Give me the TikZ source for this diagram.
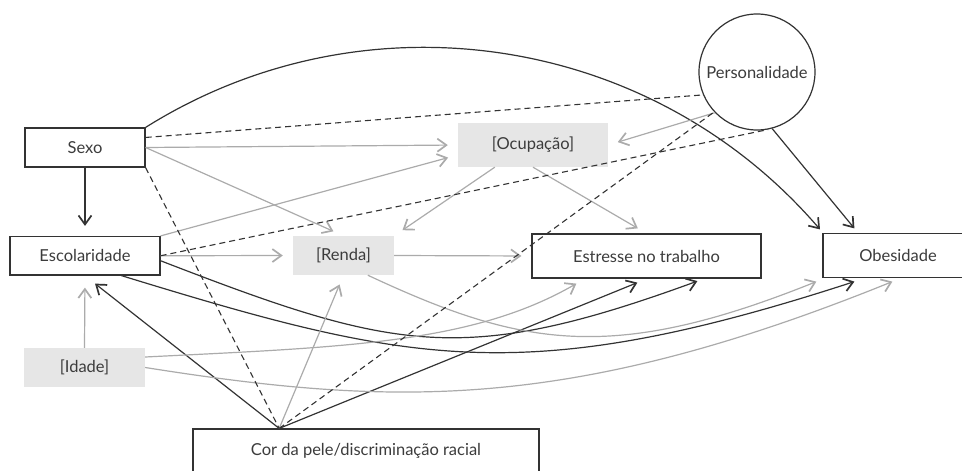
\documentclass[tikz,border=0pt]{standalone}
\usepackage{fontspec}
\setmainfont{Lato}
\usetikzlibrary{arrows.meta,calc}
\definecolor{ink}{HTML}{333333}
\definecolor{txt}{HTML}{3C3C3C}
\definecolor{soft}{HTML}{ABABAB}
\definecolor{shade}{HTML}{E6E6E6}
\begin{document}
\begin{tikzpicture}[x=1pt,y=-1pt,
  lbl/.style={text=txt,font=\fontsize{16.5}{19}\selectfont,inner sep=0pt},
  framed/.style={lbl,draw=ink,line width=1.2pt,fill=white},
  shaded/.style={lbl,fill=shade},
  tip/.style={-{Straight Barb[length=9pt,width=13pt,line width=1.7pt]}},
  dark/.style={draw=ink,line width=1.2pt,tip},
  light/.style={draw=soft,line width=1.2pt,tip},
  dashline/.style={draw=ink,line width=1.1pt,dash pattern=on 6pt off 4pt},
]
\clip (0,0) rectangle (962,471);

% variables
\node[framed,minimum width=120pt,minimum height=39pt] (sexo) at (85,147.5) {Sexo};
\node[framed,minimum width=150pt,minimum height=38.5pt] (esc) at (85,255.75) {Escolaridade};
\node[shaded,minimum width=101pt,minimum height=39pt] (renda) at (343.5,255.5) {[Renda]};
\node[shaded,minimum width=150pt,minimum height=44pt] (ocup) at (533,145) {[Ocupação]};
\node[framed,minimum width=229pt,minimum height=44pt] (estr) at (646.5,256) {Estresse no trabalho};
\node[framed,minimum width=150pt,minimum height=44pt] (obes) at (898,255.5) {Obesidade};
\node[shaded,minimum width=121pt,minimum height=39pt] (idade) at (84.5,367.5) {[Idade]};
\node[framed,circle,minimum size=116pt] (pers) at (757,72) {Personalidade};
\node[framed,minimum width=346pt,minimum height=44pt] (cor) at (366,451) {Cor da pele/discriminação racial};

\coordinate (corTop) at ($(cor.north west)!0.25!(cor.north east)$);

% direct effects
\draw[dark,shorten >=10pt] (sexo.south) -- (esc.north);
\draw[dark] (sexo.north east) arc[start angle=-122.1,end angle=-40.7,radius=523];
\draw[dark] (pers.-75) -- ($(obes.north west)+(32,-4.5)$);
\draw[dark] (corTop) -- ($(esc.south)+(10,8)$);
\draw[dark] (corTop) -- ($(estr.south west)+(106,4)$);
\draw[dark] ($(esc.east)+(0,5)$) .. controls +(233,90) and +(-235,86) .. ($(estr.south west)+(166,2.5)$);
\draw[dark] ($(esc.south west)+(112,0)$) .. controls +(287,88) and +(-332,108) .. ($(obes.south west)+(32,3.5)$);

% mediated paths
\draw[light,shorten >=10pt] (sexo.east) -- (ocup.west);
\draw[light,shorten >=11pt] (sexo.east) -- (renda.north);
\draw[light,shorten >=10pt] (esc.north east) -- ($(ocup.west)!0.45!(ocup.south west)$);
\draw[light,shorten >=10pt] (esc.east) -- (renda.west);
\draw[light,shorten >=10pt] ($(ocup.south west)+(37,0)$) -- (renda.north east);
\draw[light,shorten >=10pt] (ocup.south) -- (estr.north);
\draw[light,shorten >=10pt] (renda.east) -- (estr.west);
\draw[light,shorten >=10pt] (pers.224) -- (ocup.east);
\draw[light,shorten >=12pt] (idade.north) -- (esc.south);
\draw[light,shorten >=10pt] (corTop) -- (renda.south);
\draw[light] ($(renda.south west)+(75,0)$) .. controls +(154,72) and +(-204,82) .. ($(obes.south west)+(-6,3.5)$);
\draw[light] ($(idade.east)+(0,-10.5)$) .. controls +(200,-10) and +(-104,60) .. ($(estr.south west)+(45,5)$);
\draw[light] (idade.east) .. controls +(247,39) and +(-324,131) .. ($(obes.south west)+(70,3.5)$);

% associations
\draw[dashline] ($(sexo.north east)!0.25!(sexo.south east)$) -- (pers.203);
\draw[dashline] (sexo.south east) -- (corTop);
\draw[dashline] (esc.east) -- (pers.-79);
\draw[dashline] (corTop) -- (pers.223.5);
\end{tikzpicture}
\end{document}
